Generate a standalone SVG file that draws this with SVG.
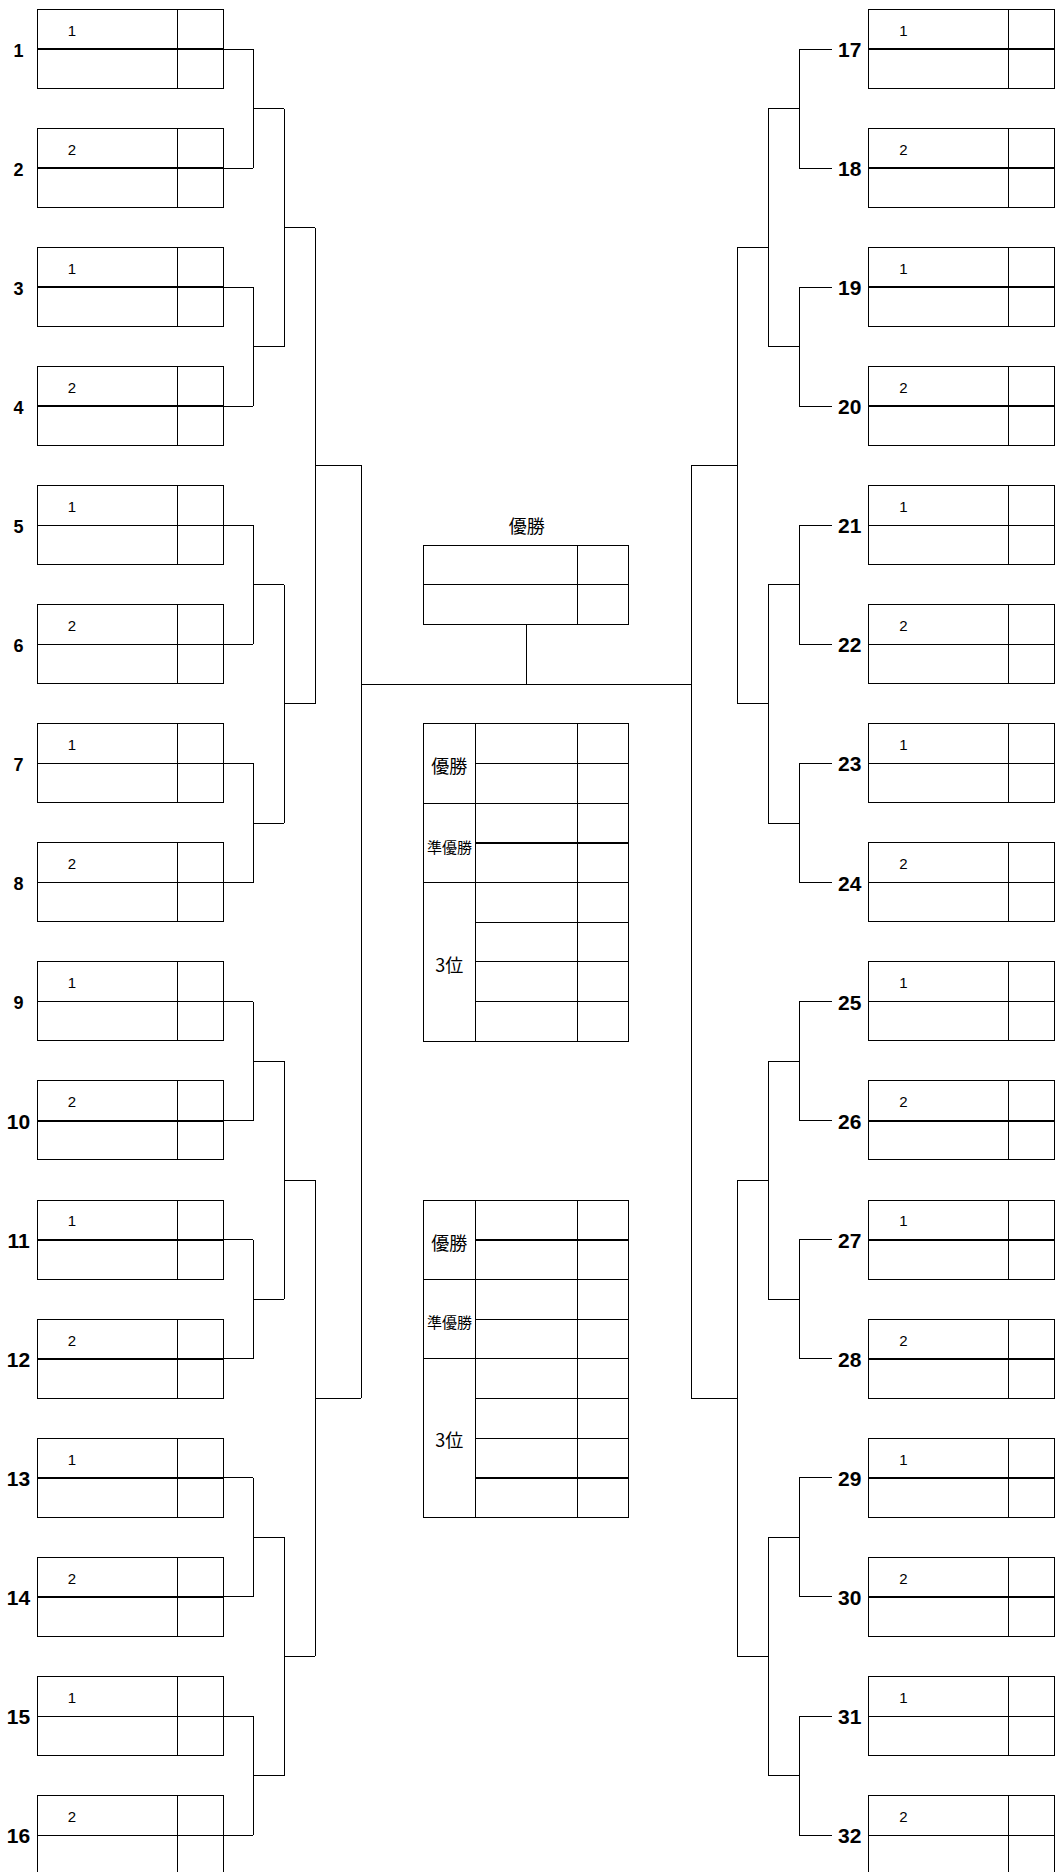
<svg xmlns="http://www.w3.org/2000/svg" xmlns:xlink="http://www.w3.org/1999/xlink" width="1056" height="1872" viewBox="0 0 1056 1872">
<style>
  .ln{fill:none;stroke:#000;stroke-width:1;shape-rendering:crispEdges}
  .thk{fill:none;stroke:#000;stroke-width:2;shape-rendering:crispEdges}
  .num{font-family:"Liberation Sans",Arial,sans-serif;font-weight:bold;fill:#000;text-anchor:middle}
  .n1{font-size:18px}
  .n2{font-size:21px}
  .seed{font-family:"Liberation Sans",Arial,sans-serif;font-size:15px;fill:#000;text-anchor:middle}
  .jp{font-family:"Noto Sans CJK JP","Noto Sans CJK SC",sans-serif;fill:#000;text-anchor:middle;dominant-baseline:central}
</style>
<defs>
  <g id="box">
    <rect class="ln" x="0" y="0" width="186" height="79"/>
    <line class="ln" x1="140.5" y1="0" x2="140.5" y2="79"/>
    <line class="ln" x1="0" y1="39.7" x2="186" y2="39.7"/>
  </g>
  <g id="boxT">
    <rect class="ln" x="0" y="0" width="186" height="79"/>
    <line class="ln" x1="140.5" y1="0" x2="140.5" y2="79"/>
    <line class="thk" x1="0" y1="39.7" x2="186" y2="39.7"/>
  </g>
</defs>
<rect x="0" y="0" width="1056" height="1872" fill="#fff"/>

<!-- Left entries -->
<g id="e1"><use xlink:href="#boxT" x="37" y="9.3"/><text class="seed" x="72" y="35.7">1</text><text class="num n1" x="18.5" y="56.7">1</text></g>
<g id="e2"><use xlink:href="#boxT" x="37" y="128.4"/><text class="seed" x="72" y="154.8">2</text><text class="num n1" x="18.5" y="175.8">2</text></g>
<g id="e3"><use xlink:href="#boxT" x="37" y="247.4"/><text class="seed" x="72" y="273.8">1</text><text class="num n1" x="18.5" y="294.8">3</text></g>
<g id="e4"><use xlink:href="#boxT" x="37" y="366.5"/><text class="seed" x="72" y="392.9">2</text><text class="num n1" x="18.5" y="413.9">4</text></g>
<g id="e5"><use xlink:href="#box" x="37" y="485.6"/><text class="seed" x="72" y="512">1</text><text class="num n1" x="18.5" y="533">5</text></g>
<g id="e6"><use xlink:href="#box" x="37" y="604.7"/><text class="seed" x="72" y="631.1">2</text><text class="num n1" x="18.5" y="652.1">6</text></g>
<g id="e7"><use xlink:href="#box" x="37" y="723.7"/><text class="seed" x="72" y="750.1">1</text><text class="num n1" x="18.5" y="771.1">7</text></g>
<g id="e8"><use xlink:href="#box" x="37" y="842.8"/><text class="seed" x="72" y="869.2">2</text><text class="num n1" x="18.5" y="890.2">8</text></g>
<g id="e9"><use xlink:href="#box" x="37" y="961.9"/><text class="seed" x="72" y="988.3">1</text><text class="num n1" x="18.5" y="1009.3">9</text></g>
<g id="e10"><use xlink:href="#boxT" x="37" y="1080.9"/><text class="seed" x="72" y="1107.3">2</text><text class="num n2" x="18.5" y="1128.6">10</text></g>
<g id="e11"><use xlink:href="#boxT" x="37" y="1200"/><text class="seed" x="72" y="1226.4">1</text><text class="num n2" x="18.5" y="1247.7">11</text></g>
<g id="e12"><use xlink:href="#boxT" x="37" y="1319.1"/><text class="seed" x="72" y="1345.5">2</text><text class="num n2" x="18.5" y="1366.8">12</text></g>
<g id="e13"><use xlink:href="#boxT" x="37" y="1438.1"/><text class="seed" x="72" y="1464.5">1</text><text class="num n2" x="18.5" y="1485.8">13</text></g>
<g id="e14"><use xlink:href="#boxT" x="37" y="1557.2"/><text class="seed" x="72" y="1583.6">2</text><text class="num n2" x="18.5" y="1604.9">14</text></g>
<g id="e15"><use xlink:href="#box" x="37" y="1676.3"/><text class="seed" x="72" y="1702.7">1</text><text class="num n2" x="18.5" y="1724">15</text></g>
<g id="e16"><use xlink:href="#box" x="37" y="1795.4"/><text class="seed" x="72" y="1821.8">2</text><text class="num n2" x="18.5" y="1843.1">16</text></g>

<!-- Right entries -->
<g id="e17"><use xlink:href="#boxT" x="868.3" y="9.3"/><text class="seed" x="903.3" y="35.7">1</text><text class="num n2" x="849.7" y="57">17</text></g>
<g id="e18"><use xlink:href="#boxT" x="868.3" y="128.4"/><text class="seed" x="903.3" y="154.8">2</text><text class="num n2" x="849.7" y="176.1">18</text></g>
<g id="e19"><use xlink:href="#boxT" x="868.3" y="247.4"/><text class="seed" x="903.3" y="273.8">1</text><text class="num n2" x="849.7" y="295.1">19</text></g>
<g id="e20"><use xlink:href="#boxT" x="868.3" y="366.5"/><text class="seed" x="903.3" y="392.9">2</text><text class="num n2" x="849.7" y="414.2">20</text></g>
<g id="e21"><use xlink:href="#box" x="868.3" y="485.6"/><text class="seed" x="903.3" y="512">1</text><text class="num n2" x="849.7" y="533.3">21</text></g>
<g id="e22"><use xlink:href="#box" x="868.3" y="604.7"/><text class="seed" x="903.3" y="631.1">2</text><text class="num n2" x="849.7" y="652.4">22</text></g>
<g id="e23"><use xlink:href="#box" x="868.3" y="723.7"/><text class="seed" x="903.3" y="750.1">1</text><text class="num n2" x="849.7" y="771.4">23</text></g>
<g id="e24"><use xlink:href="#box" x="868.3" y="842.8"/><text class="seed" x="903.3" y="869.2">2</text><text class="num n2" x="849.7" y="890.5">24</text></g>
<g id="e25"><use xlink:href="#box" x="868.3" y="961.9"/><text class="seed" x="903.3" y="988.3">1</text><text class="num n2" x="849.7" y="1009.6">25</text></g>
<g id="e26"><use xlink:href="#boxT" x="868.3" y="1080.9"/><text class="seed" x="903.3" y="1107.3">2</text><text class="num n2" x="849.7" y="1128.6">26</text></g>
<g id="e27"><use xlink:href="#boxT" x="868.3" y="1200"/><text class="seed" x="903.3" y="1226.4">1</text><text class="num n2" x="849.7" y="1247.7">27</text></g>
<g id="e28"><use xlink:href="#boxT" x="868.3" y="1319.1"/><text class="seed" x="903.3" y="1345.5">2</text><text class="num n2" x="849.7" y="1366.8">28</text></g>
<g id="e29"><use xlink:href="#boxT" x="868.3" y="1438.1"/><text class="seed" x="903.3" y="1464.5">1</text><text class="num n2" x="849.7" y="1485.8">29</text></g>
<g id="e30"><use xlink:href="#boxT" x="868.3" y="1557.2"/><text class="seed" x="903.3" y="1583.6">2</text><text class="num n2" x="849.7" y="1604.9">30</text></g>
<g id="e31"><use xlink:href="#box" x="868.3" y="1676.3"/><text class="seed" x="903.3" y="1702.7">1</text><text class="num n2" x="849.7" y="1724">31</text></g>
<g id="e32"><use xlink:href="#box" x="868.3" y="1795.4"/><text class="seed" x="903.3" y="1821.8">2</text><text class="num n2" x="849.7" y="1843.1">32</text></g>

<!-- Final (winner) box -->
<g id="final">
  <text class="jp" x="526.7" y="525" font-size="18">優勝</text>
  <rect class="ln" x="423.3" y="545.3" width="205" height="79"/>
  <line class="ln" x1="577.3" y1="545.3" x2="577.3" y2="624.3"/>
  <line class="ln" x1="423.3" y1="584.3" x2="628.3" y2="584.3"/>
</g>

<!-- Results table 1 -->
<g id="table1">
  <rect class="ln" x="423.3" y="723.3" width="205" height="317.7"/>
  <line class="ln" x1="475.3" y1="723.3" x2="475.3" y2="1041"/>
  <line class="ln" x1="577.3" y1="723.3" x2="577.3" y2="1041"/>
  <line class="ln" x1="475.3" y1="763.3" x2="628.3" y2="763.3"/>
  <line class="ln" x1="423.3" y1="803.3" x2="628.3" y2="803.3"/>
  <line class="thk" x1="475.3" y1="843.3" x2="628.3" y2="843.3"/>
  <line class="ln" x1="423.3" y1="882.7" x2="628.3" y2="882.7"/>
  <line class="ln" x1="475.3" y1="922.3" x2="628.3" y2="922.3"/>
  <line class="ln" x1="475.3" y1="961.7" x2="628.3" y2="961.7"/>
  <line class="ln" x1="475.3" y1="1001.7" x2="628.3" y2="1001.7"/>
  <text class="jp" x="449.3" y="765" font-size="18">優勝</text>
  <text class="jp" x="449.5" y="846.5" font-size="15">準優勝</text>
  <text class="jp" x="449.2" y="964" font-size="18">3位</text>
</g>

<!-- Results table 2 -->
<g id="table2">
  <rect class="ln" x="423.3" y="1200" width="205" height="317.3"/>
  <line class="ln" x1="475.3" y1="1200" x2="475.3" y2="1517.3"/>
  <line class="ln" x1="577.3" y1="1200" x2="577.3" y2="1517.3"/>
  <line class="thk" x1="475.3" y1="1240" x2="628.3" y2="1240"/>
  <line class="ln" x1="423.3" y1="1279.3" x2="628.3" y2="1279.3"/>
  <line class="ln" x1="475.3" y1="1319.3" x2="628.3" y2="1319.3"/>
  <line class="ln" x1="423.3" y1="1358.3" x2="628.3" y2="1358.3"/>
  <line class="ln" x1="475.3" y1="1398.3" x2="628.3" y2="1398.3"/>
  <line class="ln" x1="475.3" y1="1438.3" x2="628.3" y2="1438.3"/>
  <line class="thk" x1="475.3" y1="1477.7" x2="628.3" y2="1477.7"/>
  <text class="jp" x="449.3" y="1241.7" font-size="18">優勝</text>
  <text class="jp" x="449.5" y="1321.5" font-size="15">準優勝</text>
  <text class="jp" x="449.2" y="1439" font-size="18">3位</text>
</g>

<!-- Connectors -->
<g id="connectors">
  <path class="ln" d="M223 49H253.3M223 168.1H253.3M223 287.1H253.3M223 406.2H253.3M223 525.3H253.3M223 644.4H253.3M223 763.4H253.3M223 882.5H253.3M223 1001.6H253.3M223 1120.6H253.3M223 1239.7H253.3M223 1358.8H253.3M223 1477.8H253.3M223 1596.9H253.3M223 1716H253.3M223 1835.1H253.3"/>
  <path class="ln" d="M253.3 49V168.1M253.3 287.1V406.2M253.3 525.3V644.4M253.3 763.4V882.5M253.3 1001.6V1120.6M253.3 1239.7V1358.8M253.3 1477.8V1596.9M253.3 1716V1835.1"/>
  <path class="ln" d="M253.3 108.5H284.3M253.3 346.7H284.3M253.3 584.8H284.3M253.3 823H284.3M253.3 1061.1H284.3M253.3 1299.2H284.3M253.3 1537.4H284.3M253.3 1775.5H284.3"/>
  <path class="ln" d="M284.3 108.5V346.7M284.3 584.8V823M284.3 1061.1V1299.2M284.3 1537.4V1775.5"/>
  <path class="ln" d="M284.3 227.6H315.3M284.3 703.9H315.3M284.3 1180.2H315.3M284.3 1656.4H315.3"/>
  <path class="ln" d="M315.3 227.6V703.9M315.3 1180.2V1656.4M315.3 465.3H361.3M315.3 1398.3H361.3M361.3 465.3V1398.3"/>
  <path class="ln" d="M361.3 684H691.3M526.3 624.3V684"/>
  <path class="ln" d="M799.3 49H832.3M799.3 168.1H832.3M799.3 287.1H832.3M799.3 406.2H832.3M799.3 525.3H832.3M799.3 644.4H832.3M799.3 763.4H832.3M799.3 882.5H832.3M799.3 1001.6H832.3M799.3 1120.6H832.3M799.3 1239.7H832.3M799.3 1358.8H832.3M799.3 1477.8H832.3M799.3 1596.9H832.3M799.3 1716H832.3M799.3 1835.1H832.3"/>
  <path class="ln" d="M799.3 49V168.1M799.3 287.1V406.2M799.3 525.3V644.4M799.3 763.4V882.5M799.3 1001.6V1120.6M799.3 1239.7V1358.8M799.3 1477.8V1596.9M799.3 1716V1835.1"/>
  <path class="ln" d="M768.3 108.5H799.3M768.3 346.7H799.3M768.3 584.8H799.3M768.3 823H799.3M768.3 1061.1H799.3M768.3 1299.2H799.3M768.3 1537.4H799.3M768.3 1775.5H799.3"/>
  <path class="ln" d="M768.3 108.5V346.7M768.3 584.8V823M768.3 1061.1V1299.2M768.3 1537.4V1775.5"/>
  <path class="ln" d="M737.3 247.3H768.3M737.3 703.9H768.3M737.3 1180.2H768.3M737.3 1656.4H768.3"/>
  <path class="ln" d="M737.3 247.3V703.9M737.3 1180.2V1656.4M691.3 465.3H737.3M691.3 1398.3H737.3M691.3 465.3V1398.3"/>
</g>
</svg>
